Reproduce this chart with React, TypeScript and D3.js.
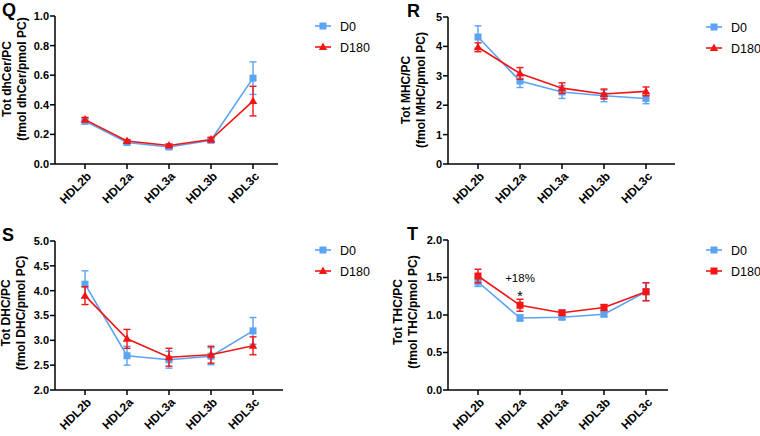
import * as d3 from "d3";

const categories = ["HDL2b", "HDL2a", "HDL3a", "HDL3b", "HDL3c"];

// Q: dhCer
const qD0 = [0.29, 0.145, 0.115, 0.16, 0.58];
const qD0Err = [0.02, 0.012, 0.01, 0.012, 0.11];
const qD180 = [0.3, 0.155, 0.125, 0.165, 0.425];
const qD180Err = [0.015, 0.01, 0.01, 0.015, 0.1];

// R: MHC
const rD0 = [4.32, 2.82, 2.45, 2.32, 2.23];
const rD0Err = [0.38, 0.22, 0.22, 0.2, 0.18];
const rD180 = [3.97, 3.08, 2.58, 2.38, 2.47];
const rD180Err = [0.15, 0.2, 0.18, 0.17, 0.15];

// S: DHC
const sD0 = [4.13, 2.69, 2.61, 2.68, 3.19];
const sD0Err = [0.27, 0.19, 0.17, 0.17, 0.27];
const sD180 = [3.9, 3.03, 2.66, 2.71, 2.89];
const sD180Err = [0.18, 0.19, 0.18, 0.17, 0.18];

// T: THC
const tD0 = [1.44, 0.96, 0.97, 1.01, 1.31];
const tD0Err = [0.06, 0.04, 0.03, 0.03, 0.12];
const tD180 = [1.52, 1.13, 1.03, 1.1, 1.31];
const tD180Err = [0.09, 0.08, 0.03, 0.04, 0.12];

const BLUE = "#5ba3f3";
const RED = "#f31515";
const FONT = "'Liberation Sans', Arial, sans-serif";

type PanelProps = {
  letter: string;
  letterX: number;
  ox: number;
  oy: number;
  axisX: number;
  axisEnd: number;
  top: number;
  bottom: number;
  domain: [number, number];
  ticks: number[];
  fmt: string;
  title: [string, string];
  titleX: number;
  titleY: number;
  d0: number[];
  d0Err: number[];
  d180: number[];
  d180Err: number[];
  squareD180?: boolean;
  legendX: number;
  legendY: number;
};

function Marker({ x, y, shape, color }: { x: number; y: number; shape: string; color: string }) {
  if (shape === "square") {
    return <rect x={x - 3.5} y={y - 3.5} width={7} height={7} fill={color} />;
  }
  return <path d={`M${x},${y - 4.5}L${x + 4.2},${y + 3}L${x - 4.2},${y + 3}Z`} fill={color} />;
}

function Panel(p: PanelProps) {
  const x = d3
    .scalePoint<string>()
    .domain(categories)
    .range([p.axisX + 30, p.axisX + 198]);
  const y = d3.scaleLinear().domain(p.domain).range([p.bottom, p.top]);
  const line = d3
    .line<number>()
    .x((_, i) => x(categories[i]) as number)
    .y((d) => y(d));
  const f = d3.format(p.fmt);
  const series = [
    { vals: p.d0, err: p.d0Err, color: BLUE, shape: "square", label: "D0" },
    { vals: p.d180, err: p.d180Err, color: RED, shape: p.squareD180 ? "square" : "triangle", label: "D180" },
  ];
  return (
    <g transform={`translate(${p.ox},${p.oy})`} fontFamily={FONT}>
      <text x={p.letterX} y={p.top} fontSize={18} fontWeight="bold">
        {p.letter}
      </text>
      {/* y axis */}
      <line x1={p.axisX} x2={p.axisX} y1={p.top} y2={p.bottom} stroke="#000" strokeWidth={1.5} />
      {p.ticks.map((t) => (
        <g key={t}>
          <line x1={p.axisX - 5} x2={p.axisX} y1={y(t)} y2={y(t)} stroke="#000" strokeWidth={1.5} />
          <text x={p.axisX - 6} y={y(t)} dy="0.36em" textAnchor="end" fontSize={11} fontWeight="bold">
            {f(t)}
          </text>
        </g>
      ))}
      <text
        transform={`translate(${p.titleX},${p.titleY}) rotate(-90)`}
        textAnchor="middle"
        fontSize={12}
        fontWeight="bold"
      >
        <tspan x={0} dy={0}>{p.title[0]}</tspan>
        <tspan x={0} dy={15}>{p.title[1]}</tspan>
      </text>
      {/* x axis */}
      <line x1={p.axisX} x2={p.axisEnd} y1={p.bottom} y2={p.bottom} stroke="#000" strokeWidth={1.5} />
      {categories.map((c) => (
        <g key={c}>
          <line x1={x(c)} x2={x(c)} y1={p.bottom} y2={p.bottom + 5} stroke="#000" strokeWidth={1.5} />
          <text
            transform={`translate(${(x(c) as number) + 4},${p.bottom + 10}) rotate(-45)`}
            textAnchor="end"
            dy="0.36em"
            fontSize={12}
            fontWeight="bold"
          >
            {c}
          </text>
        </g>
      ))}
      {/* series */}
      {series.map((s) => (
        <g key={s.label}>
          <path d={line(s.vals) as string} fill="none" stroke={s.color} strokeWidth={1.6} />
          {s.vals.map((v, i) => {
            const cx = x(categories[i]) as number;
            return (
              <g key={i} stroke={s.color} strokeWidth={1.4}>
                <line x1={cx} x2={cx} y1={y(v - s.err[i])} y2={y(v + s.err[i])} />
                <line x1={cx - 3.5} x2={cx + 3.5} y1={y(v + s.err[i])} y2={y(v + s.err[i])} />
                <line x1={cx - 3.5} x2={cx + 3.5} y1={y(v - s.err[i])} y2={y(v - s.err[i])} />
              </g>
            );
          })}
          {s.vals.map((v, i) => (
            <Marker key={i} x={x(categories[i]) as number} y={y(v)} shape={s.shape} color={s.color} />
          ))}
        </g>
      ))}
      {/* legend */}
      {series.map((s, i) => {
        const ly = p.legendY + i * 21;
        return (
          <g key={s.label}>
            <line x1={p.legendX - 8} x2={p.legendX + 8} y1={ly} y2={ly} stroke={s.color} strokeWidth={1.6} />
            <Marker x={p.legendX} y={ly} shape={s.shape} color={s.color} />
            <text x={p.legendX + 17} y={ly} dy="0.36em" fontSize={12.5}>
              {s.label}
            </text>
          </g>
        );
      })}
      {p.squareD180 && (
        <g>
          <text x={x("HDL2a")} y={y(1.5)} dy="0.36em" textAnchor="middle" fontSize={11.5}>
            +18%
          </text>
          <text x={x("HDL2a")} y={y(1.3)} dy="0.6em" textAnchor="middle" fontSize={14}>
            *
          </text>
        </g>
      )}
    </g>
  );
}

export default function App() {
  return (
    <svg width={760} height={436} style={{ position: "absolute", left: 0, top: 0, background: "#fff" }}>
      <Panel
        letter="Q" letterX={2} ox={0} oy={0} axisX={55} axisEnd={278} top={16} bottom={164}
        domain={[0, 1]} ticks={[0, 0.2, 0.4, 0.6, 0.8, 1.0]} fmt=".1f"
        title={["Tot dhCer/PC", "(fmol dhCer/pmol PC)"]} titleX={11} titleY={79}
        d0={qD0} d0Err={qD0Err} d180={qD180} d180Err={qD180Err}
        legendX={323} legendY={26}
      />
      <Panel
        letter="R" letterX={27} ox={380} oy={0} axisX={68} axisEnd={295} top={17} bottom={164}
        domain={[0, 5]} ticks={[0, 1, 2, 3, 4, 5]} fmt="d"
        title={["Tot MHC/PC", "(fmol MHC/pmol PC)"]} titleX={30} titleY={90}
        d0={rD0} d0Err={rD0Err} d180={rD180} d180Err={rD180Err}
        legendX={334} legendY={27}
      />
      <Panel
        letter="S" letterX={2} ox={0} oy={218} axisX={55} axisEnd={283} top={23} bottom={172}
        domain={[2, 5]} ticks={[2, 2.5, 3, 3.5, 4, 4.5, 5]} fmt=".1f"
        title={["Tot DHC/PC", "(fmol DHC/pmol PC)"]} titleX={10} titleY={95}
        d0={sD0} d0Err={sD0Err} d180={sD180} d180Err={sD180Err}
        legendX={323} legendY={32}
      />
      <Panel
        letter="T" letterX={27} ox={380} oy={218} axisX={68} axisEnd={288} top={22} bottom={172}
        domain={[0, 2]} ticks={[0, 0.5, 1, 1.5, 2]} fmt=".1f"
        title={["Tot THC/PC", "(fmol THC/pmol PC)"]} titleX={22} titleY={94}
        d0={tD0} d0Err={tD0Err} d180={tD180} d180Err={tD180Err} squareD180
        legendX={334} legendY={32}
      />
    </svg>
  );
}
